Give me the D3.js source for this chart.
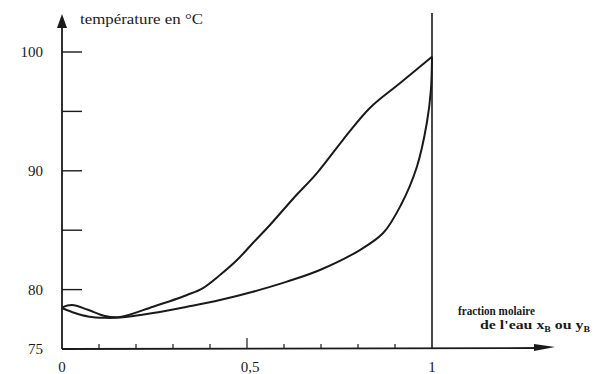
<!DOCTYPE html>
<html>
<head>
<meta charset="utf-8">
<script src="https://cdn.jsdelivr.net/npm/d3@7"></script>
<style>
  body { margin: 0; background: #fff; }
  text { font-family: "Liberation Serif", "DejaVu Serif", serif; fill: #1a1a1a; }
</style>
</head>
<body>
<svg id="chart" width="595" height="374"></svg>
<script>
// courbe de rosee (vapeur, y_B)
var vapX = [0, 0.027, 0.07, 0.116, 0.157, 0.246, 0.338, 0.381, 0.427, 0.473, 0.516, 0.562, 0.624, 0.689, 0.759, 0.832, 0.914, 1];
var vapT = [78.5, 78.7, 78.3, 77.78, 77.7, 78.56, 79.55, 80.13, 81.23, 82.49, 83.92, 85.44, 87.63, 89.81, 92.59, 95.29, 97.39, 99.6];
// courbe d'ebullition (liquide, x_B)
var liqX = [0, 0.035, 0.07, 0.116, 0.157, 0.246, 0.338, 0.427, 0.516, 0.608, 0.697, 0.805, 0.868, 0.916, 0.959, 0.986, 0.997, 1];
var liqT = [78.45, 78.03, 77.74, 77.62, 77.65, 78.03, 78.56, 79.12, 79.82, 80.67, 81.65, 83.33, 84.76, 87.12, 90.32, 94.02, 96.8, 99.6];

var yTicks = [75, 80, 85, 90, 95, 100];
var yLabels = ["75", "80", "", "90", "", "100"];
var xTicks = [0, 0.1, 0.2, 0.3, 0.4, 0.5, 0.6, 0.7, 0.8, 0.9, 1];
var xLabels = {0: "0", 0.5: "0,5", 1: "1"};

var svg = d3.select("#chart");
var x = d3.scaleLinear().domain([0, 1]).range([62, 432]);
var y = d3.scaleLinear().domain([75, 100]).range([349, 52]);

var ink = "#1a1a1a";

// axe vertical + fleche
svg.append("line")
    .attr("x1", x(0)).attr("x2", x(0))
    .attr("y1", y(75)).attr("y2", 24)
    .attr("stroke", ink).attr("stroke-width", 1.8);
svg.append("polygon")
    .attr("points", [[x(0) - 5, 28], [x(0), 14], [x(0) + 5, 28]].map(function(p){ return p.join(","); }).join(" "))
    .attr("fill", ink);

// axe horizontal + fleche
svg.append("line")
    .attr("x1", x(0)).attr("x2", 540)
    .attr("y1", y(75)).attr("y2", y(75) - 1)
    .attr("stroke", ink).attr("stroke-width", 1.8);
svg.append("polygon")
    .attr("points", [[534, y(75) - 5], [555, y(75) - 2], [534, y(75) + 2]].map(function(p){ return p.join(","); }).join(" "))
    .attr("fill", ink);

// droite x = 1
svg.append("line")
    .attr("x1", x(1)).attr("x2", x(1))
    .attr("y1", 13).attr("y2", y(75))
    .attr("stroke", ink).attr("stroke-width", 1.6);

// graduations verticales (vers l'interieur)
svg.selectAll(".ytick")
    .data(yTicks.filter(function(d){ return d > 75; }))
    .enter()
    .append("line")
    .attr("x1", x(0)).attr("x2", x(0) + 20)
    .attr("y1", function(d){ return y(d); })
    .attr("y2", function(d){ return y(d); })
    .attr("stroke", ink).attr("stroke-width", 1.4);

svg.selectAll(".ylab")
    .data(yTicks)
    .enter()
    .append("text")
    .attr("x", 43)
    .attr("y", function(d){ return y(d) + 5; })
    .attr("text-anchor", "end")
    .attr("font-size", 15)
    .text(function(d, i){ return yLabels[i]; });

// graduations horizontales
svg.selectAll(".xtick")
    .data(xTicks.filter(function(d){ return d > 0 && d < 1; }))
    .enter()
    .append("line")
    .attr("x1", function(d){ return x(d); })
    .attr("x2", function(d){ return x(d); })
    .attr("y1", y(75))
    .attr("y2", function(d){ return d === 0.5 ? y(75) - 11 : y(75) - 5; })
    .attr("stroke", ink).attr("stroke-width", 1.2);

svg.selectAll(".xlab")
    .data(xTicks.filter(function(d){ return xLabels[d] !== undefined; }))
    .enter()
    .append("text")
    .attr("x", function(d){ return x(d) + (d === 0.5 ? 3 : 0); })
    .attr("y", 372)
    .attr("text-anchor", "middle")
    .attr("font-size", 15)
    .text(function(d){ return xLabels[d]; });

// titres
svg.append("text")
    .attr("x", 80).attr("y", 24)
    .attr("font-size", 14)
    .attr("textLength", 123).attr("lengthAdjust", "spacingAndGlyphs")
    .text("température en °C");

svg.append("text")
    .attr("x", 458).attr("y", 315)
    .attr("font-size", 13).attr("font-weight", "bold")
    .attr("textLength", 77).attr("lengthAdjust", "spacingAndGlyphs")
    .text("fraction molaire");

var t2 = svg.append("text")
    .attr("x", 480).attr("y", 329)
    .attr("font-size", 13).attr("font-weight", "bold")
    .attr("textLength", 110).attr("lengthAdjust", "spacingAndGlyphs");
t2.append("tspan").text("de l'eau x");
t2.append("tspan").attr("font-size", 8).attr("dy", 3).text("B");
t2.append("tspan").attr("dy", -3).text(" ou y");
t2.append("tspan").attr("font-size", 8).attr("dy", 3).text("B");

// courbes
var line = d3.line()
    .x(function(d){ return x(d[0]); })
    .y(function(d){ return y(d[1]); })
    .curve(d3.curveCatmullRom.alpha(0.5));

svg.append("path")
    .datum(d3.zip(vapX, vapT))
    .attr("d", line)
    .attr("fill", "none").attr("stroke", ink).attr("stroke-width", 2);

svg.append("path")
    .datum(d3.zip(liqX, liqT))
    .attr("d", line)
    .attr("fill", "none").attr("stroke", ink).attr("stroke-width", 2);
</script>
</body>
</html>
